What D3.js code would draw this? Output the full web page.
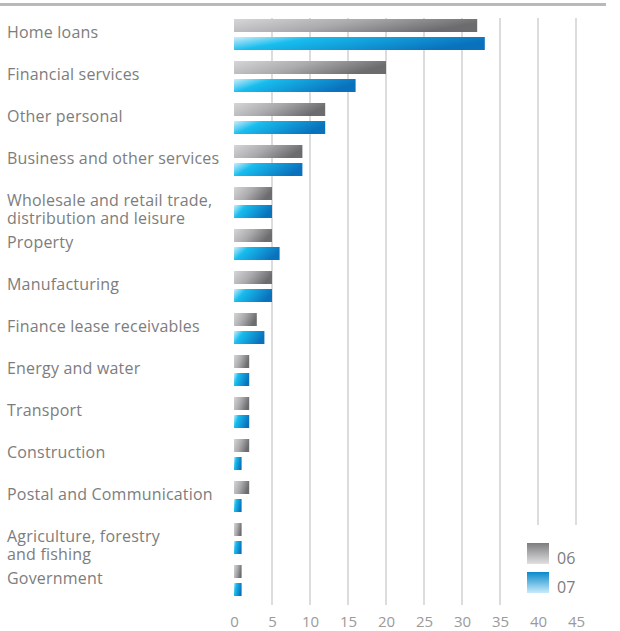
<!DOCTYPE html>
<html><head><meta charset="utf-8">
<script src="https://cdn.jsdelivr.net/npm/d3@7"></script>
<style>body{margin:0;background:#fff;} svg{display:block;}</style>
</head><body>
<script>
const categories = [
  ["Home loans"],
  ["Financial services"],
  ["Other personal"],
  ["Business and other services"],
  ["Wholesale and retail trade,", "distribution and leisure"],
  ["Property"],
  ["Manufacturing"],
  ["Finance lease receivables"],
  ["Energy and water"],
  ["Transport"],
  ["Construction"],
  ["Postal and Communication"],
  ["Agriculture, forestry", "and fishing"],
  ["Government"]
];
const series = ["06", "07"];
const values06 = [32, 20, 12, 9, 5, 5, 5, 3, 2, 2, 2, 2, 1, 1];
const values07 = [33, 16, 12, 9, 5, 6, 5, 4, 2, 2, 1, 1, 1, 1];
const tickValues = [0, 5, 10, 15, 20, 25, 30, 35, 40, 45];

const W = 620, H = 631;
const svg = d3.select("body").append("svg").attr("width", W).attr("height", H);
const defs = svg.append("defs");

function grad(id, stops, x2, y2) {
  const g = defs.append("linearGradient").attr("id", id)
    .attr("x1", 0).attr("y1", 0).attr("x2", x2).attr("y2", y2);
  stops.forEach(s => g.append("stop").attr("offset", s[0]).attr("stop-color", s[1]));
}
grad("g06", [[0, "#d6d6d8"], [0.5, "#aaaaac"], [1, "#6c6c6f"]], 1, 0.3);
grad("g07", [[0, "#cdeefb"], [0.3, "#18bdee"], [1, "#0a72bd"]], 1, 0.3);
grad("l06", [[0, "#7d7d80"], [1, "#e0e0e2"]], 0, 1);
grad("l07", [[0, "#0a88cc"], [1, "#c8ecfa"]], 0, 1);

const names = categories.map(c => c.join(" "));
const x = d3.scaleLinear().domain([0, 45]).range([234, 576]);
const y = d3.scaleBand().domain(names).range([17, 17 + 42 * names.length]).padding(0);
const sub = d3.scaleBand().domain(series).range([2, 33]).paddingInner(5 / 18).paddingOuter(0);

// top rule
svg.append("rect").attr("x", 0).attr("y", 3).attr("width", 606).attr("height", 3).attr("fill", "#b9b9b9");

// gridlines
svg.append("g").selectAll("line").data(tickValues.filter(d => d > 0)).join("line")
  .attr("x1", d => x(d)).attr("x2", d => x(d))
  .attr("y1", 18).attr("y2", 605)
  .attr("stroke", "#dcdcdc").attr("stroke-width", 2);

// bars
const data = names.map((n, i) => ({ name: n, v: { "06": values06[i], "07": values07[i] } }));
const gb = svg.append("g");
data.forEach(d => {
  series.forEach(s => {
    gb.append("rect")
      .attr("x", x(0))
      .attr("y", y(d.name) + sub(s))
      .attr("width", x(d.v[s]) - x(0))
      .attr("height", sub.bandwidth())
      .attr("fill", `url(#g${s})`);
  });
});

// category labels
const gl = svg.append("g").attr("font-family", "'Open Sans', sans-serif").attr("font-size", 16)
  .attr("letter-spacing", 0.2).attr("fill", "#7d7d7d");
categories.forEach((c, i) => {
  const t = gl.append("text").attr("x", 7).attr("y", y(names[i]) + 21);
  c.forEach((line, j) => t.append("tspan").attr("x", 7).attr("dy", j === 0 ? 0 : 18).text(line));
});

// x axis labels
const axis = d3.axisBottom(x).tickValues(tickValues).tickSize(0).tickPadding(0);
const ga = svg.append("g").attr("transform", "translate(0,627)").call(axis);
ga.select(".domain").remove();
ga.selectAll("text").attr("font-family", "'Open Sans', sans-serif").attr("font-size", 15).attr("fill", "#9a9a9a").attr("dy", 0);

// legend
const lg = svg.append("g");
lg.append("rect").attr("x", 512).attr("y", 525).attr("width", 90).attr("height", 82).attr("fill", "#fff");
series.forEach((s, i) => {
  lg.append("rect").attr("x", 527).attr("y", 543 + i * 29).attr("width", 22).attr("height", 21).attr("fill", `url(#l${s})`);
  lg.append("text").attr("x", 557).attr("y", 564 + i * 29)
    .attr("font-family", "'Open Sans', sans-serif").attr("font-size", 16).attr("fill", "#7d7d7d").text(s);
});
</script>
</body></html>
